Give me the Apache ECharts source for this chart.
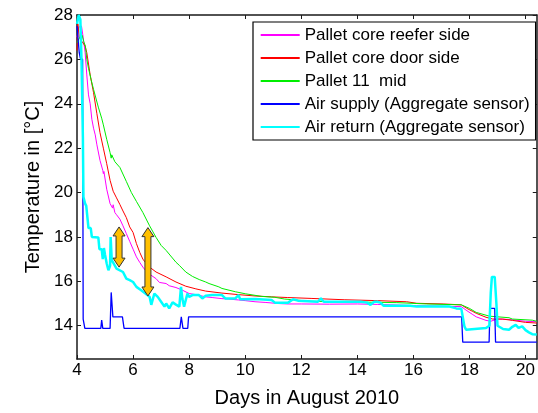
<!DOCTYPE html>
<html><head><meta charset="utf-8">
<script src="https://cdn.jsdelivr.net/npm/echarts@6/dist/echarts.min.js"></script>
<style>html,body{margin:0;padding:0;background:#fff}#c{width:538px;height:413px}</style>
</head><body><div id="c"></div>
<script>
const seriesNames = ['Pallet core reefer side', 'Pallet core door side', 'Pallet 11  mid', 'Air supply (Aggregate sensor)', 'Air return (Aggregate sensor)'];
const xTickLabels = [4, 6, 8, 10, 12, 14, 16, 18, 20];
const yTickLabels = [14, 16, 18, 20, 22, 24, 26, 28];

// [day, °C]
const palletReefer = [[4.00,27.0],[4.06,27.45],[4.16,27.5],[4.22,27.0],[4.29,26.3],[4.35,25.3],[4.41,24.4],[4.47,24.0],[4.53,23.3],[4.59,22.9],[4.65,22.6],[4.71,22.15],[4.82,21.45],[4.92,21.0],[4.94,20.85],[4.96,20.95],[5.06,20.15],[5.18,19.5],[5.27,19.3],[5.29,19.45],[5.35,19.1],[5.41,19.0],[5.53,18.8],[5.64,18.5],[5.76,18.15],[5.88,17.8],[6.00,17.45],[6.12,17.1],[6.24,16.85],[6.35,16.64],[6.47,16.45],[6.59,16.32],[6.82,16.12],[6.94,15.95],[7.18,15.9],[7.29,15.8],[7.53,15.72],[7.76,15.6],[8.00,15.45],[8.24,15.4],[8.59,15.3],[8.82,15.27],[9.17,15.22],[9.41,15.2],[9.76,15.16],[10.0,15.13],[10.35,15.08],[10.71,15.05],[11.18,15.0],[11.53,14.98],[12.0,14.98],[13.0,14.97],[14.0,14.98],[14.71,14.96],[15.2,14.94],[16.12,14.9],[17.06,14.88],[17.71,14.86],[17.88,14.7],[18.12,14.5],[18.24,14.4],[18.59,14.24],[18.76,14.2],[18.94,14.28],[19.06,14.3],[19.41,14.28],[20.0,14.2],[20.4,14.18]];
const palletDoor = [[4.00,26.4],[4.03,27.6],[4.08,27.0],[4.18,26.8],[4.29,26.6],[4.35,26.3],[4.47,25.3],[4.59,24.5],[4.71,23.55],[4.82,22.7],[4.94,22.0],[5.06,21.3],[5.18,20.55],[5.29,20.06],[5.41,19.76],[5.53,19.46],[5.64,19.17],[5.76,18.87],[5.88,18.45],[6.00,18.2],[6.12,17.7],[6.24,17.3],[6.35,17.0],[6.47,16.8],[6.59,16.64],[6.82,16.42],[7.18,16.2],[7.53,15.97],[7.88,15.78],[8.24,15.66],[8.59,15.56],[9.17,15.47],[9.76,15.4],[10.35,15.34],[10.94,15.3],[11.5,15.27],[12.35,15.23],[13.53,15.17],[14.71,15.13],[15.76,15.08],[16.12,15.01],[17.06,14.98],[17.71,14.94],[17.95,14.75],[18.12,14.64],[18.24,14.56],[18.59,14.38],[18.83,14.3],[19.18,14.3],[19.53,14.24],[20.0,14.15],[20.4,14.12]];
const pallet11 = [[4.00,26.75],[4.10,27.0],[4.18,27.1],[4.24,26.8],[4.30,26.6],[4.35,26.0],[4.41,25.6],[4.50,25.1],[4.59,24.65],[4.76,23.85],[4.88,23.35],[4.94,23.05],[5.06,22.4],[5.18,21.8],[5.22,21.55],[5.24,21.7],[5.35,21.39],[5.53,21.13],[5.76,20.5],[5.94,20.0],[6.12,19.6],[6.35,19.1],[6.59,18.5],[6.82,17.98],[7.00,17.62],[7.18,17.39],[7.53,16.86],[7.65,16.72],[7.88,16.42],[8.12,16.22],[8.36,16.08],[8.59,15.97],[8.71,15.9],[9.06,15.75],[9.17,15.68],[9.65,15.53],[10.0,15.44],[10.59,15.32],[11.06,15.28],[11.41,15.2],[12.35,15.1],[13.53,15.08],[15.41,15.04],[16.47,14.98],[17.71,14.94],[18.0,14.78],[18.24,14.6],[18.71,14.43],[19.41,14.36],[19.53,14.3],[20.24,14.25],[20.4,14.2]];
const airSupply = [[4.00,27.5],[4.08,26.3],[4.12,26.05],[4.20,26.0],[4.22,14.3],[4.28,13.88],[4.85,13.88],[4.88,14.25],[4.92,13.88],[5.18,13.88],[5.22,15.5],[5.28,14.4],[5.62,14.4],[5.68,13.88],[7.67,13.88],[7.72,14.4],[7.78,13.88],[7.95,13.88],[7.98,14.4],[17.72,14.4],[17.76,13.26],[18.70,13.26],[18.73,14.78],[18.90,14.78],[18.93,13.26],[20.4,13.26]];
const airReturn = [[4.00,27.6],[4.06,28.0],[4.12,27.8],[4.16,26.0],[4.21,22.5],[4.23,19.8],[4.29,19.5],[4.33,19.4],[4.41,18.4],[4.49,18.4],[4.53,18.0],[4.59,17.98],[4.76,17.98],[4.80,17.45],[4.88,17.45],[4.92,17.0],[4.96,17.5],[5.00,17.2],[5.06,16.8],[5.12,16.5],[5.18,16.7],[5.20,18.0],[5.24,16.95],[5.29,16.86],[5.41,16.57],[5.64,16.42],[5.76,16.12],[5.88,16.05],[6.00,15.97],[6.12,15.75],[6.29,15.6],[6.35,15.67],[6.59,15.3],[6.65,14.94],[6.76,15.45],[6.88,15.3],[6.94,15.23],[7.00,15.08],[7.12,14.86],[7.18,15.0],[7.29,14.78],[7.41,15.05],[7.53,14.95],[7.65,14.86],[7.71,15.75],[7.76,15.2],[7.82,14.86],[7.88,14.78],[7.94,15.45],[8.00,15.3],[8.12,15.38],[8.35,15.38],[8.47,15.23],[8.59,15.35],[8.82,15.38],[9.17,15.38],[9.29,15.23],[9.65,15.23],[9.76,15.38],[9.82,15.19],[10.35,15.2],[10.94,15.16],[11.06,15.04],[11.53,15.04],[11.71,15.19],[11.88,15.13],[12.59,15.08],[12.70,15.23],[12.80,15.08],[13.53,15.08],[14.12,15.08],[14.35,15.04],[14.47,14.94],[14.60,15.08],[14.71,15.08],[14.82,15.04],[14.94,14.9],[15.88,14.9],[16.12,14.86],[17.29,14.86],[17.53,14.78],[17.71,14.76],[17.82,13.97],[17.88,13.82],[18.59,13.9],[18.71,14.0],[18.76,15.5],[18.80,16.2],[18.90,16.2],[18.96,15.0],[19.00,14.0],[19.20,13.85],[19.41,13.82],[19.53,13.95],[19.65,14.04],[19.75,13.9],[19.88,13.97],[20.00,13.8],[20.12,13.7],[20.24,13.62],[20.4,13.6]];
// [day, top °C, bottom °C]
const arrowSpans = [[5.50,18.45,16.64],[6.53,18.42,15.34]];

const colors = ['#ff00ff', '#ff0000', '#00ee00', '#0000ff', '#00ffff'];
const widths = [1, 1, 1, 1.3, 2.5];
const datasets = [palletReefer, palletDoor, pallet11, airSupply, airReturn];

const chart = echarts.init(document.getElementById('c'), null, {renderer: 'canvas'});
const axisCol = '#1a1a1a';
const fontFam = '"Liberation Sans", Arial, sans-serif';
const xBase = {type: 'value', min: 4, max: 20.4, splitLine: {show: false},
  axisLine: {lineStyle: {color: axisCol, width: 1.5}},
  axisTick: {inside: true, length: 4, customValues: xTickLabels, lineStyle: {color: axisCol}}};
const yBase = {type: 'value', min: 12.5, max: 28, splitLine: {show: false},
  axisLine: {onZero: false, lineStyle: {color: axisCol, width: 1.5}},
  axisTick: {inside: true, length: 4, customValues: yTickLabels, lineStyle: {color: axisCol}}};

const series = datasets.map((d, i) => ({
  name: seriesNames[i], type: 'line', data: d, showSymbol: false, symbol: 'none',
  xAxisIndex: 0, yAxisIndex: 0, color: colors[i],
  lineStyle: {color: colors[i], width: widths[i]}, z: 2 + i * 0.01, animation: false
}));
series.push({
  type: 'custom', xAxisIndex: 0, yAxisIndex: 0, data: arrowSpans, z: 5, silent: true, animation: false,
  encode: {x: 0, y: [1, 2]},
  renderItem(params, api) {
    const t = api.coord([api.value(0), api.value(1)]);
    const b = api.coord([api.value(0), api.value(2)]);
    const x = t[0], yT = t[1], yB = b[1];
    const hw = 6, sw = 3, hh = 9;
    return {type: 'polygon', shape: {points: [[x, yT], [x + hw, yT + hh], [x + sw, yT + hh], [x + sw, yB - hh], [x + hw, yB - hh], [x, yB], [x - hw, yB - hh], [x - sw, yB - hh], [x - sw, yT + hh], [x - hw, yT + hh]]},
      style: {fill: '#FFC000', stroke: '#333', lineWidth: 1}};
  }
});

chart.setOption({
  animation: false,
  backgroundColor: '#fff',
  textStyle: {fontFamily: fontFam},
  grid: {left: 77, top: 15, right: -3, bottom: 49.7, containLabel: false},
  xAxis: [
    Object.assign({}, xBase, {position: 'bottom', name: 'Days in August 2010', nameLocation: 'middle', nameGap: 29,
      nameTextStyle: {fontSize: 20, color: '#000', fontFamily: fontFam},
      axisLabel: {customValues: xTickLabels, fontSize: 17, color: '#000', margin: 3, fontFamily: fontFam}}),
    Object.assign({}, xBase, {position: 'top', axisLabel: {show: false}})
  ],
  yAxis: [
    Object.assign({}, yBase, {position: 'left', name: 'Temperature in [°C]', nameLocation: 'middle', nameGap: 28,
      nameTextStyle: {fontSize: 20, color: '#000', fontFamily: fontFam},
      axisLabel: {customValues: yTickLabels, fontSize: 17, color: '#000', margin: 4, fontFamily: fontFam}}),
    Object.assign({}, yBase, {position: 'right', axisLabel: {show: false}})
  ],
  legend: {
    orient: 'vertical', left: 253, top: 22, padding: [4.5, 6, 4.5, 7.7], itemGap: 6,
    itemWidth: 39, itemHeight: 2, itemTextGap: 4, icon: 'rect',
    borderColor: '#000', borderWidth: 1.2, backgroundColor: '#fff',
    textStyle: {fontSize: 17, lineHeight: 17, color: '#000', fontFamily: fontFam},
    data: seriesNames.map((n, i) => ({name: n, icon: 'rect', itemStyle: {color: colors[i]}}))
  },
  series: series
});
</script></body></html>
